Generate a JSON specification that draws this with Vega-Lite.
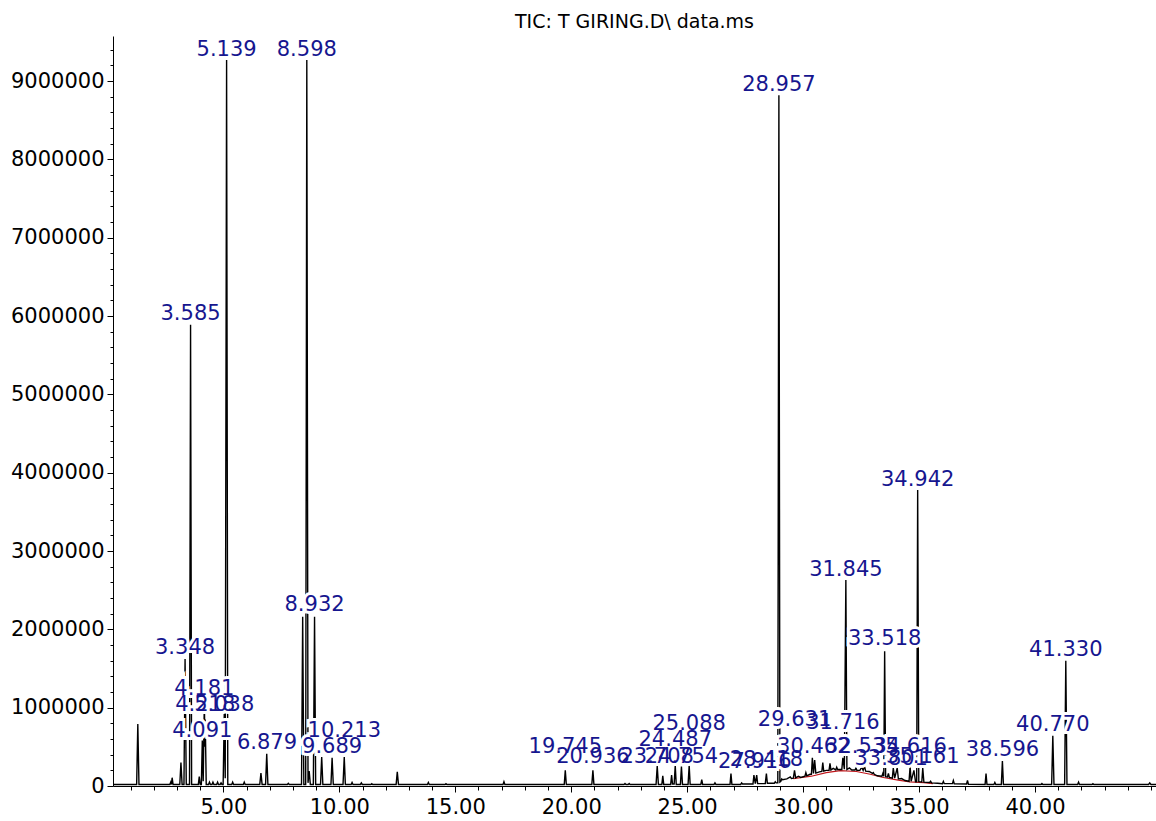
{
  "$schema": "https://vega.github.io/schema/vega-lite/v6.json",
  "width": 1043,
  "height": 750,
  "autosize": {"type": "none"},
  "padding": {"left": 113, "top": 36, "right": 0, "bottom": 35},
  "background": "white",
  "config": {"view": {"stroke": null}, "font": "DejaVu Sans"},
  "title": {"text": "TIC: T GIRING.D\\ data.ms", "fontSize": 19, "fontWeight": "normal", "color": "black", "font": "DejaVu Sans", "anchor": "middle", "offset": 4},
  "datasets": {
    "trace": [
      {"t":0.24,"v":20000},
      {"t":1.26,"v":20000},{"t":1.31,"v":790000},{"t":1.36,"v":20000},
      {"t":2.69,"v":20000},{"t":2.73,"v":50000},{"t":2.76,"v":20000},{"t":2.79,"v":106000},{"t":2.83,"v":20000},
      {"t":3.12,"v":20000},{"t":3.17,"v":300000},{"t":3.22,"v":20000},
      {"t":3.30,"v":20000},{"t":3.348,"v":1620000},{"t":3.40,"v":20000},
      {"t":3.54,"v":20000},{"t":3.585,"v":5890000},{"t":3.63,"v":20000},
      {"t":3.92,"v":20000},{"t":3.96,"v":120000},{"t":4.00,"v":20000},
      {"t":4.05,"v":20000},{"t":4.091,"v":580000},{"t":4.13,"v":60000},{"t":4.181,"v":1120000},{"t":4.20,"v":500000},{"t":4.218,"v":850000},{"t":4.26,"v":20000},
      {"t":4.36,"v":20000},{"t":4.40,"v":50000},{"t":4.44,"v":20000},
      {"t":4.51,"v":20000},{"t":4.55,"v":50000},{"t":4.59,"v":20000},
      {"t":4.71,"v":20000},{"t":4.75,"v":50000},{"t":4.79,"v":20000},
      {"t":4.86,"v":20000},{"t":4.90,"v":40000},{"t":4.94,"v":20000},
      {"t":4.99,"v":20000},{"t":5.038,"v":920000},{"t":5.08,"v":100000},{"t":5.139,"v":9270000},{"t":5.19,"v":20000},
      {"t":5.36,"v":20000},{"t":5.40,"v":50000},{"t":5.44,"v":20000},
      {"t":5.86,"v":20000},{"t":5.90,"v":50000},{"t":5.94,"v":20000},
      {"t":6.57,"v":20000},{"t":6.62,"v":165000},{"t":6.67,"v":20000},
      {"t":6.82,"v":20000},{"t":6.87,"v":410000},{"t":6.92,"v":20000},
      {"t":7.76,"v":20000},{"t":7.80,"v":35000},{"t":7.84,"v":20000},
      {"t":8.37,"v":20000},{"t":8.42,"v":2160000},{"t":8.47,"v":20000},
      {"t":8.55,"v":20000},{"t":8.598,"v":9270000},{"t":8.65,"v":40000},{"t":8.70,"v":190000},{"t":8.75,"v":20000},
      {"t":8.88,"v":20000},{"t":8.932,"v":2160000},{"t":8.98,"v":20000},
      {"t":9.19,"v":20000},{"t":9.24,"v":370000},{"t":9.29,"v":20000},
      {"t":9.64,"v":20000},{"t":9.689,"v":360000},{"t":9.74,"v":20000},
      {"t":10.16,"v":20000},{"t":10.213,"v":370000},{"t":10.26,"v":20000},
      {"t":10.51,"v":20000},{"t":10.55,"v":45000},{"t":10.59,"v":20000},
      {"t":10.91,"v":20000},{"t":10.95,"v":40000},{"t":10.99,"v":20000},
      {"t":11.36,"v":20000},{"t":11.40,"v":30000},{"t":11.44,"v":20000},
      {"t":12.45,"v":20000},{"t":12.50,"v":180000},{"t":12.55,"v":20000},
      {"t":13.80,"v":20000},{"t":13.84,"v":45000},{"t":13.88,"v":20000},
      {"t":14.56,"v":20000},{"t":14.60,"v":30000},{"t":14.64,"v":20000},
      {"t":17.06,"v":20000},{"t":17.10,"v":55000},{"t":17.14,"v":20000},
      {"t":19.70,"v":20000},{"t":19.745,"v":200000},{"t":19.79,"v":20000},
      {"t":20.89,"v":20000},{"t":20.936,"v":200000},{"t":20.98,"v":20000},
      {"t":22.28,"v":20000},{"t":22.32,"v":32000},{"t":22.36,"v":20000},{"t":22.46,"v":20000},{"t":22.50,"v":32000},{"t":22.54,"v":20000},
      {"t":23.66,"v":20000},{"t":23.71,"v":255000},{"t":23.76,"v":20000},
      {"t":23.91,"v":20000},{"t":23.95,"v":130000},{"t":23.99,"v":20000},
      {"t":24.29,"v":20000},{"t":24.33,"v":140000},{"t":24.37,"v":25000},{"t":24.44,"v":25000},{"t":24.487,"v":260000},{"t":24.53,"v":20000},
      {"t":24.71,"v":20000},{"t":24.754,"v":250000},{"t":24.80,"v":20000},
      {"t":25.04,"v":20000},{"t":25.088,"v":260000},{"t":25.13,"v":20000},
      {"t":25.59,"v":20000},{"t":25.63,"v":80000},{"t":25.67,"v":20000},
      {"t":26.16,"v":20000},{"t":26.20,"v":40000},{"t":26.24,"v":20000},
      {"t":26.85,"v":20000},{"t":26.89,"v":160000},{"t":26.93,"v":20000},
      {"t":27.31,"v":20000},{"t":27.35,"v":40000},{"t":27.39,"v":25000},
      {"t":27.84,"v":25000},{"t":27.88,"v":140000},{"t":27.94,"v":30000},{"t":28.00,"v":140000},{"t":28.04,"v":30000},
      {"t":28.37,"v":30000},{"t":28.418,"v":160000},{"t":28.46,"v":35000},
      {"t":28.76,"v":35000},{"t":28.80,"v":55000},{"t":28.84,"v":40000},
      {"t":28.91,"v":40000},{"t":28.957,"v":8820000},{"t":29.00,"v":50000},
      {"t":29.04,"v":60000},{"t":29.08,"v":90000},{"t":29.12,"v":80000},
      {"t":29.30,"v":90000},{"t":29.45,"v":115000},{"t":29.50,"v":95000},
      {"t":29.58,"v":100000},{"t":29.631,"v":200000},{"t":29.68,"v":105000},
      {"t":29.80,"v":125000},{"t":29.90,"v":110000},
      {"t":30.08,"v":125000},{"t":30.12,"v":170000},{"t":30.16,"v":130000},
      {"t":30.30,"v":150000},
      {"t":30.36,"v":150000},{"t":30.40,"v":360000},{"t":30.45,"v":160000},{"t":30.50,"v":330000},{"t":30.55,"v":165000},
      {"t":30.70,"v":180000},
      {"t":30.81,"v":185000},{"t":30.85,"v":300000},{"t":30.89,"v":190000},
      {"t":31.00,"v":200000},
      {"t":31.12,"v":200000},{"t":31.16,"v":290000},{"t":31.20,"v":205000},
      {"t":31.30,"v":225000},
      {"t":31.41,"v":205000},{"t":31.45,"v":240000},{"t":31.49,"v":210000},
      {"t":31.67,"v":210000},{"t":31.716,"v":360000},{"t":31.78,"v":215000},{"t":31.845,"v":2630000},{"t":31.89,"v":210000},
      {"t":32.00,"v":230000},{"t":32.10,"v":205000},
      {"t":32.24,"v":205000},{"t":32.28,"v":230000},{"t":32.32,"v":200000},
      {"t":32.45,"v":200000},{"t":32.53,"v":240000},{"t":32.59,"v":200000},{"t":32.65,"v":250000},{"t":32.70,"v":190000},
      {"t":32.85,"v":185000},
      {"t":32.99,"v":160000},{"t":33.03,"v":170000},{"t":33.07,"v":150000},
      {"t":33.20,"v":130000},
      {"t":33.40,"v":125000},{"t":33.44,"v":160000},{"t":33.48,"v":125000},{"t":33.518,"v":1720000},{"t":33.56,"v":120000},
      {"t":33.64,"v":115000},{"t":33.68,"v":160000},{"t":33.72,"v":110000},
      {"t":33.85,"v":100000},{"t":33.89,"v":230000},{"t":33.95,"v":100000},{"t":34.06,"v":230000},{"t":34.11,"v":90000},
      {"t":34.25,"v":95000},{"t":34.40,"v":70000},
      {"t":34.57,"v":60000},{"t":34.616,"v":250000},{"t":34.66,"v":60000},{"t":34.78,"v":200000},{"t":34.85,"v":55000},
      {"t":34.90,"v":55000},{"t":34.942,"v":3780000},{"t":34.99,"v":55000},
      {"t":35.12,"v":50000},{"t":35.161,"v":230000},{"t":35.21,"v":50000},
      {"t":35.46,"v":45000},{"t":35.50,"v":60000},{"t":35.54,"v":40000},
      {"t":35.80,"v":35000},
      {"t":36.01,"v":30000},{"t":36.05,"v":60000},{"t":36.09,"v":30000},
      {"t":36.44,"v":30000},{"t":36.48,"v":70000},{"t":36.52,"v":28000},
      {"t":37.05,"v":25000},{"t":37.09,"v":70000},{"t":37.13,"v":22000},
      {"t":37.85,"v":20000},{"t":37.89,"v":160000},{"t":37.93,"v":20000},
      {"t":38.23,"v":20000},{"t":38.27,"v":45000},{"t":38.31,"v":20000},
      {"t":38.55,"v":20000},{"t":38.596,"v":320000},{"t":38.64,"v":20000},
      {"t":40.26,"v":20000},{"t":40.30,"v":32000},{"t":40.34,"v":20000},
      {"t":40.72,"v":20000},{"t":40.770,"v":640000},{"t":40.82,"v":20000},
      {"t":41.28,"v":20000},{"t":41.330,"v":1600000},{"t":41.38,"v":20000},
      {"t":41.84,"v":20000},{"t":41.88,"v":50000},{"t":41.92,"v":20000},
      {"t":42.46,"v":20000},{"t":42.50,"v":30000},{"t":42.54,"v":20000},
      {"t":44.90,"v":20000},{"t":44.95,"v":40000},{"t":45.00,"v":20000},
      {"t":45.22,"v":20000}
    ],
    "redbase": [
      {"t":29.58,"v":95000},{"t":30.36,"v":125000},{"t":31.0,"v":170000},{"t":31.6,"v":195000},{"t":32.3,"v":185000},
      {"t":32.9,"v":150000},{"t":33.4,"v":112000},{"t":34.1,"v":75000},{"t":34.6,"v":52000},{"t":35.2,"v":42000},{"t":35.6,"v":30000}
    ],
    "labels": [
      {"t":5.139,"label":"5.139","ly":9320000},
      {"t":8.598,"label":"8.598","ly":9320000},
      {"t":28.957,"label":"28.957","ly":8870000},
      {"t":3.585,"label":"3.585","ly":5950000},
      {"t":34.942,"label":"34.942","ly":3830000},
      {"t":31.845,"label":"31.845","ly":2680000},
      {"t":8.932,"label":"8.932","ly":2230000},
      {"t":33.518,"label":"33.518","ly":1800000},
      {"t":3.348,"label":"3.348","ly":1685000},
      {"t":41.330,"label":"41.330","ly":1660000},
      {"t":4.181,"label":"4.181","ly":1160000},
      {"t":4.218,"label":"4.218","ly":957000},
      {"t":5.038,"label":"5.038","ly":957000},
      {"t":4.091,"label":"4.091","ly":626000},
      {"t":6.879,"label":"6.879","ly":472000},
      {"t":10.213,"label":"10.213","ly":626000},
      {"t":9.689,"label":"9.689","ly":421000},
      {"t":19.745,"label":"19.745","ly":421000},
      {"t":20.936,"label":"20.936","ly":294000},
      {"t":23.708,"label":"23.708","ly":294000},
      {"t":24.487,"label":"24.487","ly":511000},
      {"t":24.754,"label":"24.754","ly":294000},
      {"t":25.088,"label":"25.088","ly":715000},
      {"t":27.916,"label":"27.916","ly":230000},
      {"t":28.418,"label":"28.418","ly":255000},
      {"t":29.631,"label":"29.631","ly":766000},
      {"t":30.462,"label":"30.462","ly":421000},
      {"t":31.716,"label":"31.716","ly":728000},
      {"t":32.535,"label":"32.535","ly":421000},
      {"t":33.801,"label":"33.801","ly":268000},
      {"t":34.616,"label":"34.616","ly":421000},
      {"t":35.161,"label":"35.161","ly":294000},
      {"t":38.596,"label":"38.596","ly":383000},
      {"t":40.770,"label":"40.770","ly":702000}
    ]
  },
  "layer": [
    {
      "data": {"name": "redbase"},
      "mark": {"type": "line", "color": "#c0161b", "strokeWidth": 1.2, "clip": true},
      "encoding": {
        "x": {"field": "t", "type": "quantitative", "scale": {"domain": [0.24, 45.22], "nice": false, "zero": false},
          "axis": {"orient": "bottom", "values": [1,2,3,4,6,7,8,9,11,12,13,14,16,17,18,19,21,22,23,24,26,27,28,29,31,32,33,34,36,37,38,39,41,42,43,44,45], "labels": false, "domain": false, "grid": false, "tickSize": 4, "tickColor": "black", "title": null}},
        "y": {"field": "v", "type": "quantitative", "scale": {"domain": [0, 9575000], "nice": false},
          "axis": {"orient": "left", "values": [200000,400000,600000,800000,1200000,1400000,1600000,1800000,2200000,2400000,2600000,2800000,3200000,3400000,3600000,3800000,4200000,4400000,4600000,4800000,5200000,5400000,5600000,5800000,6200000,6400000,6600000,6800000,7200000,7400000,7600000,7800000,8200000,8400000,8600000,8800000,9200000,9400000], "labels": false, "domain": false, "grid": false, "tickSize": 3, "tickColor": "black", "title": null}}
      }
    },
    {
      "data": {"name": "trace"},
      "mark": {"type": "line", "color": "black", "strokeWidth": 1.4, "clip": true},
      "encoding": {
        "x": {"field": "t", "type": "quantitative",
          "axis": {"orient": "bottom", "values": [5,10,15,20,25,30,35,40], "format": ".2f", "labelFont": "DejaVu Sans", "labelFontSize": 21, "labelColor": "black", "tickSize": 6, "tickColor": "black", "domainColor": "black", "labelPadding": 4, "grid": false, "title": null}},
        "y": {"field": "v", "type": "quantitative",
          "axis": {"orient": "left", "values": [0,1000000,2000000,3000000,4000000,5000000,6000000,7000000,8000000,9000000], "format": "d", "labelFont": "DejaVu Sans", "labelFontSize": 21, "labelColor": "black", "tickSize": 6, "tickColor": "black", "domainColor": "black", "labelPadding": 3, "grid": false, "title": null}}
      }
    },
    {
      "data": {"name": "labels"},
      "mark": {"type": "text", "font": "DejaVu Sans", "fontSize": 21, "baseline": "alphabetic", "align": "center", "stroke": "white", "strokeWidth": 6, "fill": "white"},
      "encoding": {
        "x": {"field": "t", "type": "quantitative", "axis": null},
        "y": {"field": "ly", "type": "quantitative", "axis": null},
        "text": {"field": "label"}
      }
    },
    {
      "data": {"name": "labels"},
      "mark": {"type": "text", "font": "DejaVu Sans", "fontSize": 21, "baseline": "alphabetic", "align": "center", "color": "#16168f"},
      "encoding": {
        "x": {"field": "t", "type": "quantitative", "axis": null},
        "y": {"field": "ly", "type": "quantitative", "axis": null},
        "text": {"field": "label"}
      }
    }
  ],
  "resolve": {"axis": {"x": "independent", "y": "independent"}}
}
